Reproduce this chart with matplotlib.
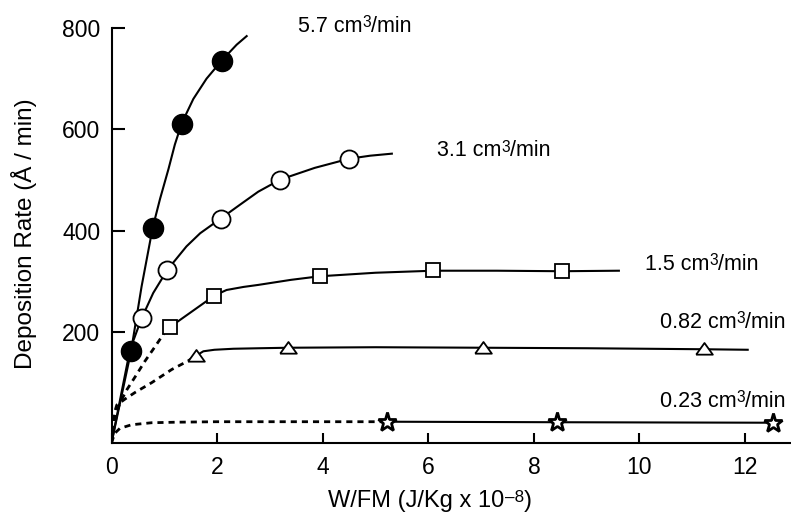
import matplotlib
matplotlib.use("Agg")
import matplotlib.pyplot as plt

plt.rcParams['font.family'] = ['Liberation Sans', 'DejaVu Sans']

Y0 = -19  # curve origin (bottom of axis)

# ---- measured data points ----
x_57 = [0.37, 0.78, 1.33, 2.09]
y_57 = [162, 406, 611, 734]
x_31 = [0.57, 1.06, 2.07, 3.20, 4.50]
y_31 = [227, 323, 424, 501, 542]
x_15 = [1.11, 1.95, 3.94, 6.09, 8.53]
y_15 = [210, 272, 310, 322, 320]
x_082 = [1.60, 3.35, 7.04, 11.23]
y_082 = [153, 169, 169, 166]
x_023 = [5.22, 8.44, 12.53]
y_023 = [23, 22, 21]

# ---- fitted curves ----
cx_57 = [0, 0.37, 0.57, 0.78, 0.92, 1.08, 1.20, 1.33, 1.55, 1.80, 2.09, 2.37, 2.56]
cy_57 = [Y0, 162, 290, 406, 463, 522, 570, 612, 660, 700, 736, 767, 784]
cx_31 = [0, 0.35, 0.57, 0.79, 1.06, 1.42, 1.68, 2.07, 2.43, 2.78, 3.20, 3.85, 4.50, 4.9, 5.31]
cy_31 = [Y0, 165, 227, 277, 323, 369, 395, 424, 451, 477, 501, 524, 542, 548, 552]
cx_15 = [1.11, 1.95, 2.18, 2.5, 2.78, 3.4, 3.94, 5.0, 6.09, 7.3, 8.53, 9.61]
cy_15 = [210, 272, 283, 289, 293, 303, 310, 317, 321, 321, 320, 321]
dx_15 = [0, 0.06, 0.16, 0.29, 0.45, 0.63, 0.79, 1.0, 1.11]
dy_15 = [Y0, 30, 60, 86, 112, 142, 166, 198, 210]
cx_082 = [1.60, 1.74, 1.95, 2.31, 2.8, 3.35, 5.0, 7.04, 9.0, 11.23, 12.05]
cy_082 = [153, 162, 165, 167, 168, 169, 170, 169, 168, 166, 165]
dx_082 = [0, 0.04, 0.10, 0.26, 0.45, 0.76, 1.14, 1.45, 1.60]
dy_082 = [Y0, 35, 56, 68, 81, 100, 126, 143, 153]
cx_023 = [5.22, 8.44, 12.53]
cy_023 = [23, 22, 21]
dx_023 = [0, 0.06, 0.16, 0.38, 0.76, 1.2, 2.0, 3.5, 5.22]
dy_023 = [Y0, 0, 10, 17, 21, 22, 23, 23, 23]

labels = ['5.7', '3.1', '1.5', '0.82', '0.23']
label_x = [3.53, 6.17, 10.11, 10.39, 10.39]
label_y = [793, 547, 323, 208, 53]

fig = plt.figure(figsize=(7.91, 5.2), dpi=100)
ax = fig.add_axes([111.5 / 791, 1 - 443 / 520, (791 - 111.5) / 791, 415 / 520])
ax.set_xlim(0, 12.87)
ax.set_ylim(Y0, 800)

lw = 1.5
dash = dict(color='black', lw=2.0, linestyle=(0, (2.2, 1.8)))
ax.plot(cx_57, cy_57, color='black', lw=lw)
ax.plot(cx_31, cy_31, color='black', lw=lw)
ax.plot(cx_15, cy_15, color='black', lw=lw)
ax.plot(dx_15, dy_15, **dash)
ax.plot(cx_082, cy_082, color='black', lw=lw)
ax.plot(dx_082, dy_082, **dash)
ax.plot(cx_023, cy_023, color='black', lw=lw)
ax.plot(dx_023, dy_023, **dash)

tri = [(-1, -0.62), (1, -0.62), (0, 0.78), (-1, -0.62)]
ax.plot(x_57, y_57, 'o', ms=14.5, mfc='black', mec='black', zorder=5)
ax.plot(x_31, y_31, 'o', ms=13, mfc='white', mec='black', mew=1.3, zorder=5)
ax.plot(x_15, y_15, 's', ms=10.5, mfc='white', mec='black', mew=1.3, zorder=5)
ax.plot(x_082, y_082, marker=tri, ls='none', ms=12, mfc='white', mec='black', mew=1.3, zorder=5)
ax.plot(x_023, y_023, '*', ms=14, mfc='white', mec='black', mew=2.0, zorder=5)

for s in ['top', 'right']:
    ax.spines[s].set_visible(False)
for s in ['left', 'bottom']:
    ax.spines[s].set_linewidth(1.5)

ax.set_xticks([0, 2, 4, 6, 8, 10, 12])
ax.set_yticks([200, 400, 600, 800])
ax.tick_params(axis='both', direction='in', width=1.5, labelsize=16.5)
ax.tick_params(axis='y', length=9, pad=8)
ax.tick_params(axis='x', length=7.5, pad=9)

renderer = fig.canvas.get_renderer()
W, H = fig.bbox.width, fig.bbox.height


def place_pieces(x_px, y_px, pieces, center=False):
    """Place text pieces in sequence; x_px,y_px are display pixels (origin bottom-left) of baseline."""
    objs = []
    widths = []
    for txt, fs, rise in pieces:
        t = fig.text(0, 0, txt, fontsize=fs, va='baseline', ha='left')
        widths.append(t.get_window_extent(renderer).width)
        objs.append((t, rise))
    total = sum(widths)
    x = x_px - total / 2 if center else x_px
    for (t, rise), w in zip(objs, widths):
        t.set_position((x / W, (y_px + rise) / H))
        x += w


fs_ann = 15.5
for t, lx, ly in zip(labels, label_x, label_y):
    px, py = ax.transData.transform((lx, ly))
    place_pieces(px, py, [(t + ' cm', fs_ann, 0), ('3', fs_ann * 0.72, fs_ann * 0.3),
                          ('/min', fs_ann, 0)])

fs_lab = 17
place_pieces(430, H - 507, [('W/FM (J/Kg x 10', fs_lab, 0), ('–8', fs_lab * 0.72, fs_lab * 0.3),
                            (')', fs_lab, 0)], center=True)
fig.text(24 / 791, 1 - 234 / 520, 'Deposition Rate (Å / min)', fontsize=17.5,
         rotation=90, ha='center', va='center')

fig.savefig('out.png', dpi=100)
